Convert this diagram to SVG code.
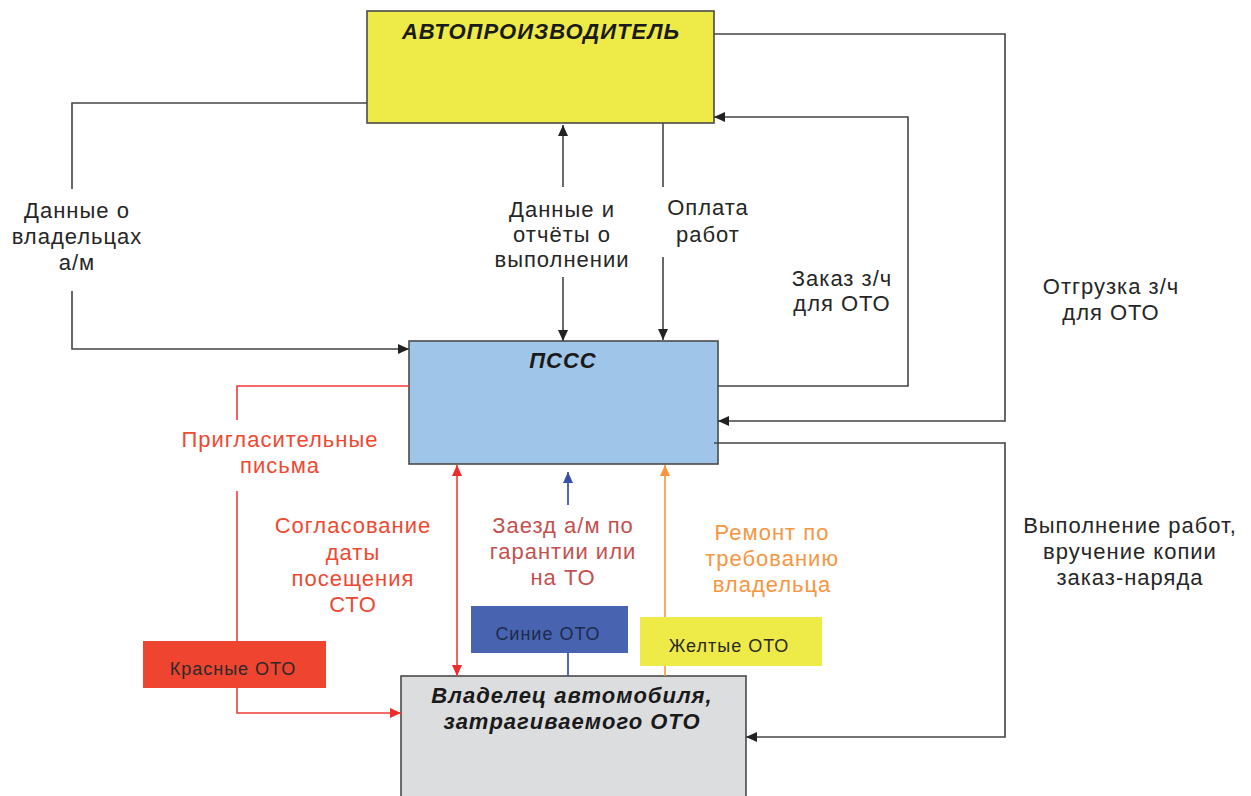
<svg xmlns="http://www.w3.org/2000/svg" width="1251" height="796" viewBox="0 0 1251 796">
<defs>
<style>
.lbl{font-family:"Liberation Sans",Arial,sans-serif;font-size:22px;letter-spacing:1px;text-anchor:middle;fill:#262626}
.ttl{font-family:"Liberation Sans",Arial,sans-serif;font-size:22px;letter-spacing:1px;font-weight:bold;font-style:italic;text-anchor:middle;fill:#1a1a1a}
.sm{font-family:"Liberation Sans",Arial,sans-serif;font-size:18px;letter-spacing:1px;text-anchor:middle;fill:#2a2a2a}
.k{fill:none;stroke:#444;stroke-width:1.6}
.r{fill:none;stroke:#EE3B3B;stroke-width:1.6}
.b{fill:none;stroke:#4458A8;stroke-width:1.8}
.o{fill:none;stroke:#F7963F;stroke-width:1.6}
.box{stroke:#4a4a4a;stroke-width:1.6}
</style>
<marker id="ak" markerUnits="userSpaceOnUse" markerWidth="12" markerHeight="10" refX="11" refY="5" orient="auto-start-reverse"><path d="M0,0 L11,5 L0,10 z" fill="#222"/></marker>
<marker id="ar" markerUnits="userSpaceOnUse" markerWidth="12" markerHeight="10" refX="11" refY="5" orient="auto-start-reverse"><path d="M0,0 L11,5 L0,10 z" fill="#EE2B2B"/></marker>
<marker id="ab" markerUnits="userSpaceOnUse" markerWidth="12" markerHeight="10" refX="11" refY="5" orient="auto-start-reverse"><path d="M0,0 L11,5 L0,10 z" fill="#3A50A8"/></marker>
<marker id="ao" markerUnits="userSpaceOnUse" markerWidth="12" markerHeight="10" refX="11" refY="5" orient="auto-start-reverse"><path d="M0,0 L11,5 L0,10 z" fill="#F7963F"/></marker>
</defs>
<rect width="1251" height="796" fill="#fff"/>

<g id="avtoproizvoditel">
<rect class="box" x="367" y="11" width="347" height="112" fill="#EEEA48"/>
<text class="ttl" x="541" y="39">АВТОПРОИЗВОДИТЕЛЬ</text>
</g>
<g id="psss">
<rect class="box" x="409" y="341" width="309" height="123" fill="#9FC5E8"/>
<text class="ttl" x="563" y="368">ПССС</text>
</g>
<g id="vladelec">
<rect class="box" x="401" y="676" width="345" height="130" fill="#DCDDDF"/>
<text class="ttl" x="572" y="703">Владелец автомобиля,</text>
<text class="ttl" x="572" y="729">затрагиваемого ОТО</text>
</g>

<g id="connectors">
<path class="k" d="M367,103 H72 V189"/>
<path class="k" d="M72,291 V349 H409" marker-end="url(#ak)"/>
<path class="k" d="M563,187 V125" marker-end="url(#ak)"/>
<path class="k" d="M563,277 V341" marker-end="url(#ak)"/>
<path class="k" d="M663,123 V187"/>
<path class="k" d="M663,257 V340" marker-end="url(#ak)"/>
<path class="k" d="M718,386 H908 V117 H714" marker-end="url(#ak)"/>
<path class="k" d="M714,34 H1005 V421 H718" marker-end="url(#ak)"/>
<path class="k" d="M714,443 H1005 V737 H746" marker-end="url(#ak)"/>
<path class="r" d="M409,386 H237 V420"/>
<path class="r" d="M237,491 V641"/>
<path class="r" d="M237,688 V713 H401" marker-end="url(#ar)"/>
<path class="r" d="M457,465 V676" marker-start="url(#ar)" marker-end="url(#ar)"/>
<path class="b" d="M568,505 V472" marker-end="url(#ab)"/>
<path class="b" d="M568,653 V676"/>
<path class="o" d="M665,676 V465" marker-end="url(#ao)"/>
<text class="lbl" x="77" y="218">Данные о</text>
<text class="lbl" x="77" y="244">владельцах</text>
<text class="lbl" x="77" y="270">а/м</text>
<text class="lbl" x="562" y="217">Данные и</text>
<text class="lbl" x="562" y="242">отчёты о</text>
<text class="lbl" x="562" y="267">выполнении</text>
<text class="lbl" x="708" y="215">Оплата</text>
<text class="lbl" x="708" y="242">работ</text>
<text class="lbl" x="842" y="286">Заказ з/ч</text>
<text class="lbl" x="842" y="311">для ОТО</text>
<text class="lbl" x="1111" y="294">Отгрузка з/ч</text>
<text class="lbl" x="1111" y="320">для ОТО</text>
<text class="lbl" x="1130" y="533">Выполнение работ,</text>
<text class="lbl" x="1130" y="559">вручение копии</text>
<text class="lbl" x="1130" y="585">заказ-наряда</text>
<text class="lbl" x="280" y="447" style="fill:#F04830">Пригласительные</text>
<text class="lbl" x="280" y="473" style="fill:#F04830">письма</text>
<text class="lbl" x="353" y="533" style="fill:#F04830">Согласование</text>
<text class="lbl" x="353" y="560" style="fill:#F04830">даты</text>
<text class="lbl" x="353" y="586" style="fill:#F04830">посещения</text>
<text class="lbl" x="353" y="612" style="fill:#F04830">СТО</text>
<text class="lbl" x="563" y="533" style="fill:#C4504E">Заезд а/м по</text>
<text class="lbl" x="563" y="559" style="fill:#C4504E">гарантии или</text>
<text class="lbl" x="563" y="585" style="fill:#C4504E">на ТО</text>
<text class="lbl" x="772" y="540" style="fill:#F7963F">Ремонт по</text>
<text class="lbl" x="772" y="566" style="fill:#F7963F">требованию</text>
<text class="lbl" x="772" y="592" style="fill:#F7963F">владельца</text>
</g>

<g id="krasnye-oto">
<rect x="143" y="641" width="183" height="47" fill="#EE4430"/>
<text class="sm" x="233" y="675">Красные ОТО</text>
</g>
<g id="sinie-oto">
<rect x="471" y="606" width="157" height="47" fill="#4864B0"/>
<text class="sm" x="548" y="640" style="fill:#1e2a4a">Синие ОТО</text>
</g>
<g id="zheltye-oto">
<rect x="640" y="617" width="182" height="49" fill="#EEEA48"/>
<text class="sm" x="729" y="652">Желтые ОТО</text>
</g>
</svg>
